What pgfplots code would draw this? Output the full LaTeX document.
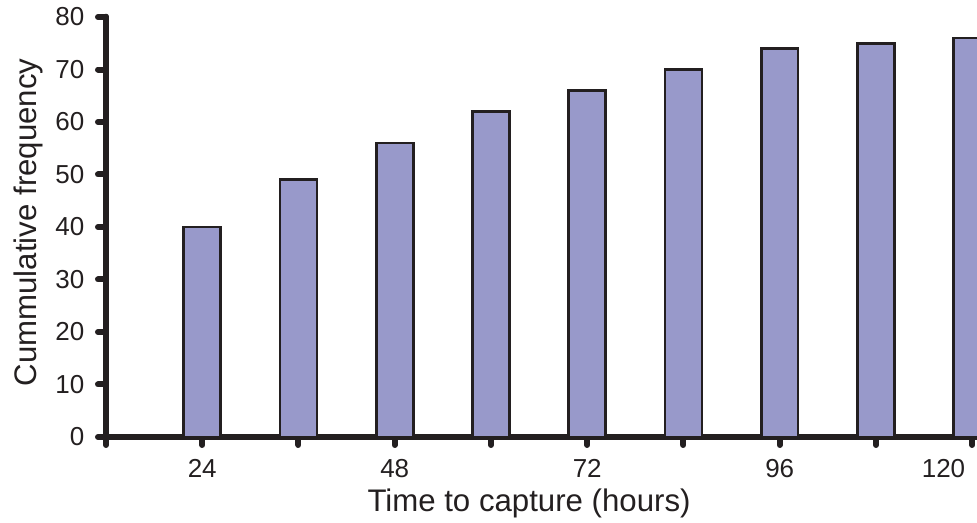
\documentclass[border=0pt]{standalone}
\usepackage{fontspec}
\setmainfont{Liberation Sans}
\usepackage{pgfplots}
\pgfplotsset{compat=1.18}
\definecolor{barfill}{RGB}{152,153,202}
\definecolor{ink}{RGB}{35,31,32}

\begin{document}
\begin{tikzpicture}
\begin{axis}[
    at={(0,0)}, anchor=south west,
    scale only axis,
    width=653.25pt, height=315pt,
    xmin=12, xmax=120.6, ymin=0, ymax=80,
    axis lines*=left,
    axis line style={ink, line width=5pt, line cap=round, -},
    xtick={12,24,...,120},
    xticklabels={,24,,48,,72,,96,,\makebox[0pt][r]{120\hspace{5.25pt}}},
    ytick={0,10,...,80},
    tick align=outside,
    major tick length=6pt,
    every tick/.style={ink, line width=4.5pt, line cap=round},
    every major tick/.style={ink, line width=4.5pt, line cap=round},
    xtick style={ink, line width=4.5pt, line cap=round},
    ytick style={ink, line width=4.5pt, line cap=round},
    ticklabel style={font=\fontsize{19.5}{20}\selectfont, text=ink},
    xticklabel style={yshift=-7.5pt},
    yticklabel style={xshift=-6.75pt},
    /pgf/number format/assume math mode=true,
    xlabel={Time to capture (hours)},
    ylabel={Cummulative frequency},
    xlabel style={at={([yshift=-56.25pt]rel axis cs:0.4857,0)}, anchor=base,
        font=\fontsize{23.4}{24}\selectfont, text=ink},
    ylabel style={at={([xshift=-51.75pt]rel axis cs:0,0.511)}, anchor=base,
        font=\fontsize{23.4}{24}\selectfont, text=ink},
    ybar, bar width=4.6,
    clip=true,
]
\addplot[fill=barfill, draw=ink, line width=2pt] coordinates {
    (24,40) (36,49) (48,56) (60,62) (72,66) (84,70) (96,74) (108,75) (120,76)
};
\end{axis}
\pgfresetboundingbox
\path (-79.5pt,-64.5pt) rectangle (653.25pt,327.75pt);
\end{tikzpicture}
\end{document}
